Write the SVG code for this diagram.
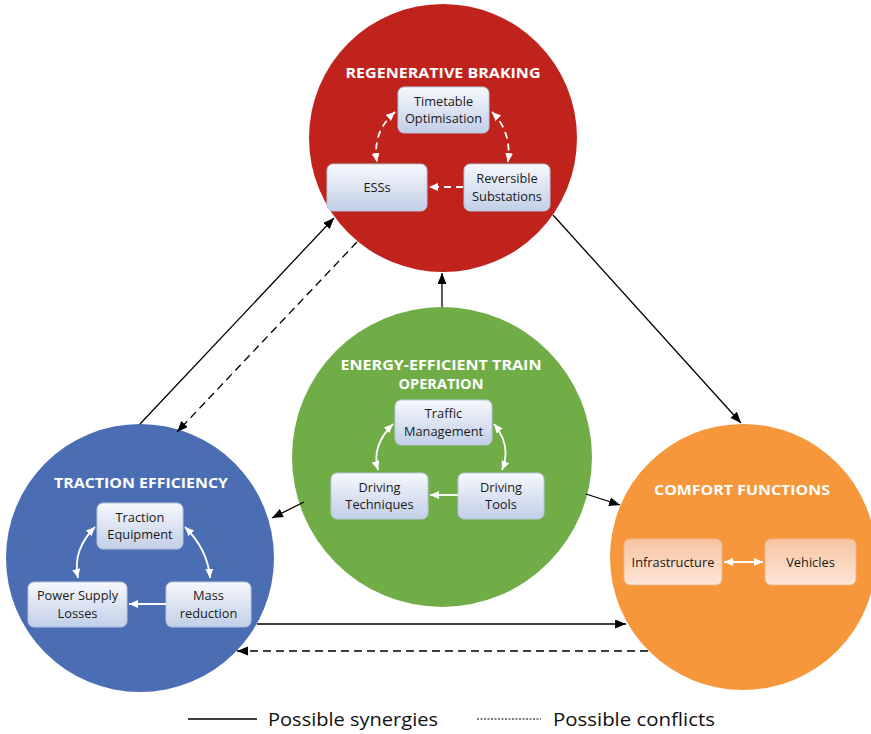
<svg xmlns="http://www.w3.org/2000/svg" width="871" height="734" viewBox="0 0 871 734">
<style>
.title{font-family:"Open Sans","Noto Sans","Liberation Sans",sans-serif;font-weight:bold;fill:#fff;font-size:14.5px;text-anchor:middle}
.bt{font-family:"Open Sans","Noto Sans","Liberation Sans",sans-serif;fill:#1a1a1a;font-size:12.8px;text-anchor:middle}
.box{fill:url(#gb);stroke:#b7c4dd;stroke-width:1}
.obox{fill:url(#go);stroke:#f2b68c;stroke-width:1}
.conn{stroke:#000;stroke-width:1.3;fill:none;marker-end:url(#ah)}
.dash{stroke-dasharray:8 5}
.win{stroke:#fff;stroke-width:1.8;fill:none}
.wdash{stroke-dasharray:7 5}
.leg{font-family:"Open Sans","Noto Sans","Liberation Sans",sans-serif;font-size:18px;fill:#111}
</style>
<defs>
<linearGradient id="gb" x1="0" y1="0" x2="0" y2="1">
<stop offset="0" stop-color="#f6f8fc"/><stop offset="1" stop-color="#c2cfe8"/>
</linearGradient>
<linearGradient id="go" x1="0" y1="0" x2="0" y2="1">
<stop offset="0" stop-color="#f6c4a1"/><stop offset="1" stop-color="#fce6d6"/>
</linearGradient>
<marker id="ah" markerUnits="userSpaceOnUse" markerWidth="12" markerHeight="10" refX="11" refY="4.5" orient="auto">
<path d="M0,0 L11,4.5 L0,9 z" fill="#000"/>
</marker>
<marker id="wh" markerUnits="userSpaceOnUse" markerWidth="10" markerHeight="9" refX="9" refY="4" orient="auto-start-reverse">
<path d="M0,0 L9,4 L0,8 z" fill="#fff"/>
</marker>
</defs>

<g id="regenerative-braking">
<circle cx="443" cy="138" r="134" fill="#c0231b"/>
<text class="title" x="443" y="78" textLength="195" lengthAdjust="spacingAndGlyphs">REGENERATIVE BRAKING</text>
<g id="timetable"><rect class="box" x="398" y="87" width="91" height="46" rx="6"/><text class="bt" x="443.5" y="105.8">Timetable</text><text class="bt" x="443.5" y="123.3">Optimisation</text></g>
<g id="esss"><rect class="box" x="327" y="164" width="100" height="47" rx="6"/><text class="bt" x="377" y="192">ESSs</text></g>
<g id="reversible"><rect class="box" x="464" y="164" width="86" height="47" rx="6"/><text class="bt" x="507" y="183.3">Reversible</text><text class="bt" x="507" y="200.8">Substations</text></g>
<path class="win wdash" d="M395,112 Q372,132 377,162" marker-start="url(#wh)" marker-end="url(#wh)"/>
<path class="win wdash" d="M492,112 Q512,132 508,162" marker-start="url(#wh)" marker-end="url(#wh)"/>
<path class="win wdash" d="M463,187 L429,187" marker-end="url(#wh)"/>
</g>

<g id="energy-efficient">
<circle cx="442" cy="457" r="150" fill="#70ad47"/>
<text class="title" x="441" y="370" textLength="201" lengthAdjust="spacingAndGlyphs">ENERGY-EFFICIENT TRAIN</text>
<text class="title" x="441" y="389">OPERATION</text>
<g id="traffic"><rect class="box" x="395" y="400" width="97" height="45" rx="6"/><text class="bt" x="443.5" y="418.3">Traffic</text><text class="bt" x="443.5" y="435.8">Management</text></g>
<g id="techniques"><rect class="box" x="331" y="473" width="97" height="46" rx="6"/><text class="bt" x="379.5" y="491.8">Driving</text><text class="bt" x="379.5" y="509.3">Techniques</text></g>
<g id="tools"><rect class="box" x="458" y="473" width="86" height="46" rx="6"/><text class="bt" x="501" y="491.8">Driving</text><text class="bt" x="501" y="509.3">Tools</text></g>
<path class="win" d="M393,424 Q371,446 378,470" marker-start="url(#wh)" marker-end="url(#wh)"/>
<path class="win" d="M494,424 Q512,446 502,470" marker-start="url(#wh)" marker-end="url(#wh)"/>
<path class="win" d="M458,495 L430,495" marker-end="url(#wh)"/>
</g>

<g id="traction-efficiency">
<circle cx="140" cy="558" r="134" fill="#4a6db4"/>
<text class="title" x="141" y="488" textLength="174" lengthAdjust="spacingAndGlyphs">TRACTION EFFICIENCY</text>
<g id="traction-equipment"><rect class="box" x="97" y="503" width="86" height="46" rx="6"/><text class="bt" x="140" y="521.8">Traction</text><text class="bt" x="140" y="539.3">Equipment</text></g>
<g id="power-supply"><rect class="box" x="28" y="582" width="99" height="45" rx="6"/><text class="bt" x="77.5" y="600.3">Power Supply</text><text class="bt" x="77.5" y="617.8">Losses</text></g>
<g id="mass"><rect class="box" x="166" y="582" width="85" height="45" rx="6"/><text class="bt" x="208.5" y="600.3">Mass</text><text class="bt" x="208.5" y="617.8">reduction</text></g>
<path class="win" d="M95,527 Q72,550 78,578" marker-start="url(#wh)" marker-end="url(#wh)"/>
<path class="win" d="M185,527 Q208,550 210,578" marker-start="url(#wh)" marker-end="url(#wh)"/>
<path class="win" d="M166,604 L129,604" marker-end="url(#wh)"/>
</g>

<g id="comfort-functions">
<circle cx="743" cy="557" r="133" fill="#f5973a"/>
<text class="title" x="742" y="495" textLength="176" lengthAdjust="spacingAndGlyphs">COMFORT FUNCTIONS</text>
<g id="infrastructure"><rect class="obox" x="624" y="539" width="98" height="46" rx="6"/><text class="bt" x="673" y="566.5">Infrastructure</text></g>
<g id="vehicles"><rect class="obox" x="765" y="539" width="91" height="46" rx="6"/><text class="bt" x="810.5" y="566.5">Vehicles</text></g>
<path class="win" d="M724,562 L763,562" marker-start="url(#wh)" marker-end="url(#wh)"/>
</g>

<g id="connectors">
<line class="conn" x1="140" y1="424" x2="334" y2="218"/>
<line class="conn dash" x1="357" y1="242" x2="177" y2="432"/>
<line class="conn" x1="553" y1="215" x2="741" y2="423"/>
<line class="conn" x1="442" y1="307" x2="442" y2="273"/>
<line class="conn" x1="304" y1="502" x2="272" y2="518"/>
<line class="conn" x1="586" y1="494" x2="620" y2="505"/>
<line class="conn" x1="257" y1="624" x2="626" y2="624"/>
<line class="conn dash" x1="648" y1="651" x2="237" y2="651"/>
</g>

<g id="legend">
<line x1="188" y1="719" x2="257" y2="719" stroke="#000" stroke-width="1.5"/>
<text class="leg" x="268" y="726" textLength="170" lengthAdjust="spacingAndGlyphs">Possible synergies</text>
<line x1="477" y1="719" x2="541" y2="719" stroke="#000" stroke-width="1.2" stroke-dasharray="2 1.5"/>
<text class="leg" x="553" y="726" textLength="162" lengthAdjust="spacingAndGlyphs">Possible conflicts</text>
</g>
</svg>
